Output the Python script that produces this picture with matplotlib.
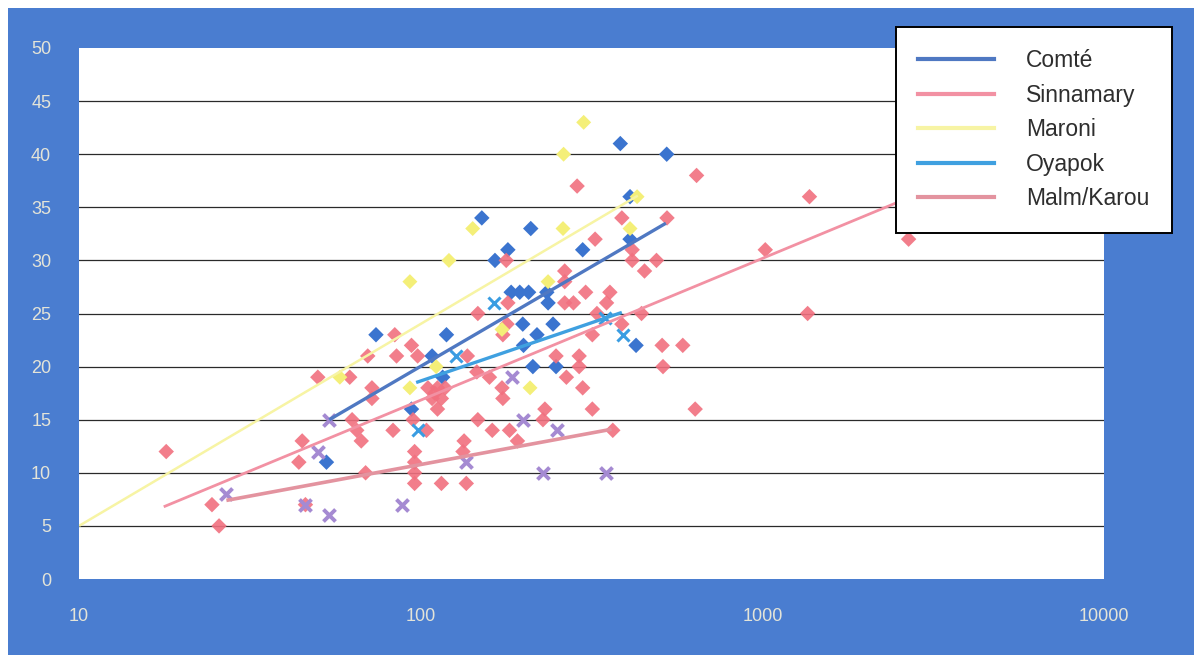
import matplotlib
matplotlib.use("Agg")
import matplotlib.pyplot as plt
from matplotlib.lines import Line2D
from matplotlib.patches import Rectangle
from matplotlib.ticker import NullLocator, FixedLocator

plt.rcParams['font.family'] = ['Liberation Sans', 'DejaVu Sans']

# ---- data: x = surface (log scale), y = value ----
comte_x = [53, 74, 94, 108, 116, 119, 151, 165, 180, 184, 195, 199, 200, 207,
           210, 213, 219, 234, 236, 244, 249, 298, 384, 410, 410, 427, 525]
comte_y = [11, 23, 16, 21, 19, 23, 34, 30, 31, 27, 27, 24, 22, 27,
           33, 20, 23, 27, 26, 24, 20, 31, 41, 36, 32, 22, 40]

sinn_x = [18, 24.5, 25.7, 44, 45, 46, 50, 62, 63, 65, 67, 69, 70, 72, 72, 83,
          84, 85, 94, 95, 96, 96, 96, 96, 98, 104, 105, 108, 110, 112, 115,
          118, 112, 115, 133, 134, 136, 137, 146, 147, 147, 159, 162, 173,
          174, 174, 178, 179, 180, 182, 192, 228, 231, 249, 264, 264, 264,
          267, 280, 287, 291, 291, 298, 304, 318, 318, 324, 328, 350, 358,
          365, 388, 388, 416, 416, 443, 452, 490, 509, 512, 526, 585, 636,
          642, 1020, 1357, 1374, 2680]
sinn_y = [12, 7, 5, 11, 13, 7, 19, 19, 15, 14, 13, 10, 21, 18, 17, 14,
          23, 21, 22, 15, 12, 11, 10, 9, 21, 14, 18, 17, 17.5, 18, 17,
          18, 16, 9, 12, 13, 9, 21, 19.5, 25, 15, 19, 14, 18,
          17, 23, 30, 24, 26, 14, 13, 15, 16, 21, 29, 28, 26,
          19, 26, 37, 21, 20, 18, 27, 23, 16, 32, 25, 26, 27,
          14, 34, 24, 31, 30, 25, 29, 30, 22, 20, 34, 22, 16,
          38, 31, 25, 36, 32]

maroni_x = [58, 93, 93, 111, 121, 142, 173, 209, 236, 261, 262, 300, 410, 430]
maroni_y = [19, 18, 28, 20, 30, 33, 23.5, 18, 28, 33, 40, 43, 33, 36]

oyapok_x = [98, 127, 164, 347, 391]
oyapok_y = [14, 21, 26, 24.6, 23]

malm_x = [27, 46, 50, 54, 54, 88, 136, 185, 199, 228, 250, 349]
malm_y = [8, 7, 12, 6, 15, 7, 11, 19, 15, 10, 14, 10]

# logarithmic trend lines (start / end)
comte_trend_x, comte_trend_y = [54, 522], [15.0, 33.5]
sinn_trend_x, sinn_trend_y = [17.7, 2680], [6.8, 35.9]
maroni_trend_x, maroni_trend_y = [10, 432], [5.0, 36.1]
oyapok_trend_x, oyapok_trend_y = [97, 388], [18.5, 25.1]
malm_trend_x, malm_trend_y = [27, 362], [7.4, 14.1]

series_names = ['Comté', 'Sinnamary', 'Maroni', 'Oyapok', 'Malm/Karou']
x_ticks = [10, 100, 1000, 10000]
y_ticks = list(range(0, 51, 5))

# ---- figure ----
W, H = 1196, 658
fig = plt.figure(figsize=(W / 100, H / 100), dpi=100, facecolor='white')
fig.patches.append(Rectangle((8 / W, 3 / H), (1194 - 8) / W, (650 - 3) / H,
                             transform=fig.transFigure, facecolor='#4a7dd0',
                             edgecolor='none', zorder=-10))

ax = fig.add_axes([79 / W, 1 - 579 / H, (1104 - 79) / W, (579 - 48) / H])
ax.set_facecolor('white')
ax.set_xscale('log')
ax.set_xlim(10, 10000)
ax.set_ylim(0, 50)
ax.xaxis.set_major_locator(FixedLocator(x_ticks))
ax.xaxis.set_minor_locator(NullLocator())
ax.set_xticklabels([str(v) for v in x_ticks])
ax.set_yticks(y_ticks)
ax.tick_params(axis='both', length=0, colors='#e4e4d8', labelsize=13)
ax.tick_params(axis='y', pad=20)
ax.tick_params(axis='x', pad=21)
for s in ax.spines.values():
    s.set_visible(False)
for v in y_ticks[1:-1]:
    ax.axhline(v, color='#2a2a2a', lw=0.9, zorder=1)

# ---- points ----
ax.scatter(comte_x, comte_y, marker='D', s=62, color='#3b74cf', edgecolor='none', zorder=3)
ax.scatter(sinn_x, sinn_y, marker='D', s=62, color='#f1707f', edgecolor='none', alpha=0.9, zorder=3)
ax.scatter(maroni_x, maroni_y, marker='D', s=58, color='#f4ef78', edgecolor='none', zorder=3)
ax.scatter(oyapok_x, oyapok_y, marker='x', s=75, color='#3a9de2', linewidths=2.2, zorder=4)
ax.scatter(malm_x, malm_y, marker='x', s=75, color='#a58ad2', linewidths=2.8, zorder=4)

# ---- trend lines ----
line_styles = [
    (comte_trend_x, comte_trend_y, '#4f78c2', 2.4),
    (sinn_trend_x, sinn_trend_y, '#f291a3', 2.0),
    (maroni_trend_x, maroni_trend_y, '#f7f4a4', 1.8),
    (oyapok_trend_x, oyapok_trend_y, '#3fa0e0', 2.4),
    (malm_trend_x, malm_trend_y, '#e3939f', 2.6),
]
handles = []
for tx, ty, c, lw in line_styles:
    ax.plot(tx, ty, color=c, lw=lw, zorder=5, solid_capstyle='butt')
    handles.append(Line2D([0], [0], color=c, lw=3.0))

leg = fig.legend(handles, series_names, loc='upper left',
                 bbox_to_anchor=(896 / W, 1 - 27 / H), bbox_transform=fig.transFigure,
                 frameon=True, fancybox=False, framealpha=1, edgecolor='black',
                 fontsize=16.5, handlelength=3.3, handletextpad=1.4,
                 labelspacing=0.5, borderpad=0.98, borderaxespad=0)
leg.get_frame().set_linewidth(1.4)
leg.set_zorder(10)
for t in leg.get_texts():
    t.set_color('#2e2e2e')

fig.savefig('out.png', dpi=100, facecolor=fig.get_facecolor())
